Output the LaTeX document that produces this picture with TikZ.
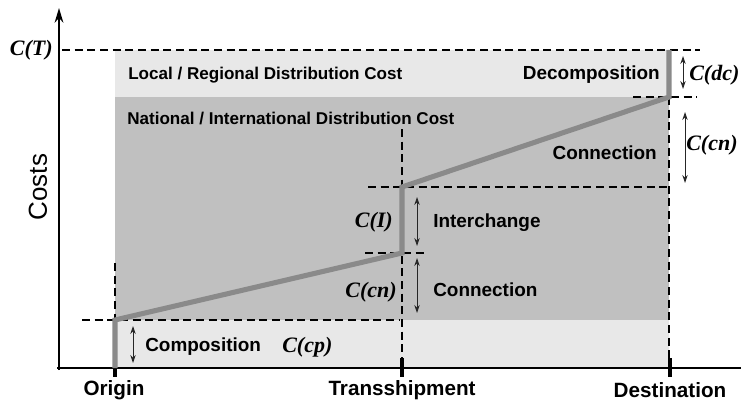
\documentclass[tikz,border=0pt]{standalone}
\usepackage{fontspec}
\setmainfont{Liberation Serif}
\setsansfont{Liberation Sans}
\usetikzlibrary{arrows.meta}
\definecolor{lightband}{HTML}{E8E8E8}
\definecolor{darkband}{HTML}{C0C0C0}
\definecolor{pathgray}{HTML}{8A8A8A}
\begin{document}
\begin{tikzpicture}[x=0.75pt,y=-0.75pt,
  dashline/.style={black, line width=1.4pt, dash pattern=on 6pt off 3.5pt},
  dimarrow/.style={{Stealth[length=6pt,width=4pt]}-{Stealth[length=6pt,width=4pt]}, line width=0.7pt, black!85},
  costpath/.style={line width=3.8pt, pathgray, line join=miter},
  axisline/.style={line width=2.2pt, black},
  tick/.style={line width=3.5pt, black},
  lbl/.style={font=\sffamily\bfseries\fontsize{14.2}{16}\selectfont, inner sep=0},
  bandlbl/.style={font=\sffamily\bfseries\fontsize{12.8}{15}\selectfont, anchor=west, inner sep=0},
  mathlbl/.style={font=\rmfamily\bfseries\itshape\fontsize{16.5}{19}\selectfont, inner sep=0},
  axlbl/.style={font=\sffamily\bfseries\fontsize{15.5}{18}\selectfont, inner sep=0},
]
\useasboundingbox (0,0) rectangle (741,403);
% bands
\fill[lightband] (115,50) rectangle (669,368);
\fill[darkband] (115,97) rectangle (669,320);
% key points
\coordinate (O0) at (115,368);
\coordinate (O1) at (115,320);
\coordinate (T0) at (402,253);
\coordinate (T1) at (402,187);
\coordinate (D0) at (669,97);
\coordinate (D1) at (669,50);
% dashed guides
\coordinate (gT0) at (62,50);   \coordinate (gT1) at (700,50);
\coordinate (gD0) at (633,97);  \coordinate (gD1) at (697,97);
\coordinate (gD2) at (669,368);
\coordinate (gI0) at (368,187); \coordinate (gI1) at (669,187);
\coordinate (gJ0) at (365,253); \coordinate (gJ1) at (428,253);
\coordinate (gV0) at (402,129); \coordinate (gV1) at (402,368);
\coordinate (gC0) at (82,320);  \coordinate (gC1) at (400,320);
\coordinate (gO0) at (115,263);
\draw[dashline] (gT0) -- (gT1);
\draw[dashline] (gD0) -- (gD1);
\draw[dashline] (D0) -- (gD2);
\draw[dashline] (gI0) -- (gI1);
\draw[dashline] (gJ0) -- (gJ1);
\draw[dashline] (gV0) -- (gV1);
\draw[dashline] (gC0) -- (gC1);
\draw[dashline] (gO0) -- (O1);
% axes
\coordinate (YA0) at (59,370); \coordinate (YA1) at (59,8);
\coordinate (XA0) at (57,368); \coordinate (XA1) at (741,368);
\draw[axisline, -{Stealth[length=11pt,width=6.5pt]}] (YA0) -- (YA1);
\draw[axisline] (XA0) -- (XA1);
% ticks
\coordinate (tO) at (115,377);
\coordinate (tT0) at (402,358); \coordinate (tT1) at (402,377);
\coordinate (tD0) at (670,358); \coordinate (tD1) at (670,377);
\draw[tick] (O0) -- (tO);
\draw[tick] (tT0) -- (tT1);
\draw[tick] (tD0) -- (tD1);
% cost path
\draw[costpath] (O0) -- (O1) -- (T0) -- (T1) -- (D0) -- (D1);
% dimension arrows
\coordinate (a1) at (133,326); \coordinate (a2) at (133,363);
\coordinate (b1) at (417,258); \coordinate (b2) at (417,313);
\coordinate (c1) at (417,197); \coordinate (c2) at (417,246);
\coordinate (d1) at (685,112); \coordinate (d2) at (685,183);
\coordinate (e1) at (683,56);  \coordinate (e2) at (683,89);
\draw[dimarrow] (a1) -- (a2);
\draw[dimarrow] (b1) -- (b2);
\draw[dimarrow] (c1) -- (c2);
\draw[dimarrow] (d1) -- (d2);
\draw[dimarrow] (e1) -- (e2);
% labels
\node[mathlbl, anchor=east] (CT) at (53,50) {C(T)};
\node[bandlbl] (local) at (128,75) {Local / Regional Distribution Cost};
\node[bandlbl] (national) at (127,118) {National / International Distribution Cost};
\node[lbl, anchor=east] (decomp) at (660,75) {Decomposition};
\node[mathlbl, anchor=west] (Cdc) at (689,75) {C(dc)};
\node[lbl, anchor=east] (conn1) at (657,153) {Connection};
\node[mathlbl, anchor=west] (Ccn1) at (686,145) {C(cn)};
\node[mathlbl, anchor=east] (CI) at (393,222) {C(I)};
\node[lbl, anchor=west] (inter) at (433,223) {Interchange};
\node[mathlbl, anchor=east] (Ccn2) at (397,292) {C(cn)};
\node[lbl, anchor=west] (conn2) at (433,290) {Connection};
\node[lbl, anchor=west] (comp) at (145,347) {Composition};
\node[mathlbl, anchor=west] (Ccp) at (282,347) {C(cp)};
\node[axlbl] (origin) at (114,390) {Origin};
\node[axlbl] (trans) at (402,390) {Transshipment};
\node[axlbl] (dest) at (670,390) {Destination};
\node[font=\sffamily\fontsize{19.5}{22}\selectfont, inner sep=0, rotate=90] (costs) at (38,187) {Costs};
\end{tikzpicture}
\end{document}
